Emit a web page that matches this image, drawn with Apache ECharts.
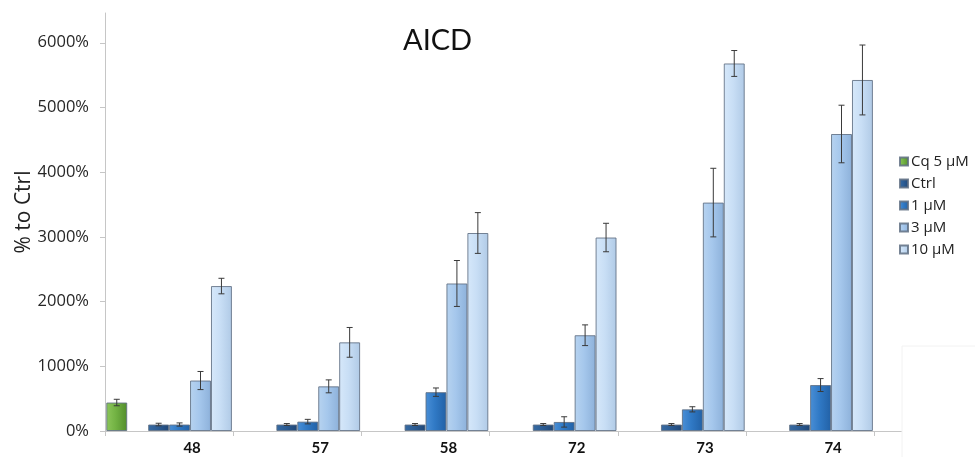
<!DOCTYPE html>
<html>
<head>
<meta charset="utf-8">
<script src="https://cdn.jsdelivr.net/npm/echarts@6/dist/echarts.min.js"></script>
<style>html,body{margin:0;padding:0;background:#fff}#c{width:975px;height:457px}</style>
</head>
<body>
<div id="c"></div>
<script>
// ---- data ----
const categories = ['48', '57', '58', '72', '73', '74', ''];
const yTicks = [0, 1000, 2000, 3000, 4000, 5000, 6000];
const seriesNames = ['Cq 5 µM', 'Ctrl', '1 µM', '3 µM', '10 µM'];
const cqValues   = [440, null, null, null, null, null, null];
const cqErr      = [50, null, null, null, null, null, null];
const ctrlValues = [100, 100, 100, 100, 100, 100, null];
const ctrlErr    = [20, 15, 15, 15, 15, 15, null];
const m1Values   = [100, 145, 600, 140, 335, 710, null];
const m1Err      = [25, 35, 65, 80, 40, 100, null];
const m3Values   = [780, 690, 2280, 1480, 3530, 4590, null];
const m3Err      = [140, 100, 355, 160, 530, 445, null];
const m10Values  = [2240, 1370, 3060, 2990, 5680, 5425, null];
const m10Err     = [120, 230, 315, 220, 200, 540, null];

// ---- styling ----
const CAT_GAP = 0.02;
const SLOTS = 6;
function grad(a, b, c) {
  return new echarts.graphic.LinearGradient(0, 0, 1, 0, [
    {offset: 0, color: a}, {offset: 0.45, color: b}, {offset: 1, color: c}
  ]);
}
const styles = [
  grad('#8cc65a', '#72b243', '#528d2b'),
  grad('#386ba3', '#2c5d95', '#1f4676'),
  grad('#4a8fd6', '#3079c5', '#2261a6'),
  grad('#b7d3f0', '#a5c7ec', '#8db1da'),
  grad('#d6e8fa', '#c8def5', '#b0cae6')
];
const valueSets = [cqValues, ctrlValues, m1Values, m3Values, m10Values];
const errSets = [cqErr, ctrlErr, m1Err, m3Err, m10Err];
const slotOf = [0, 2, 3, 4, 5];

const series = [];
valueSets.forEach((vals, k) => {
  series.push({
    name: seriesNames[k],
    type: 'bar',
    data: vals,
    barGap: '0%',
    barCategoryGap: (CAT_GAP * 100) + '%',
    itemStyle: {color: styles[k], borderColor: 'rgba(95,110,130,0.85)', borderWidth: 1},
    z: 2
  });
  if (k === 0) {
    series.push({
      name: 'blank', type: 'bar', data: categories.map(() => null),
      barGap: '0%', barCategoryGap: (CAT_GAP * 100) + '%'
    });
  }
});
valueSets.forEach((vals, k) => {
  const d = [];
  vals.forEach((v, i) => { if (v != null) d.push([i, v, errSets[k][i]]); });
  const slot = slotOf[k];
  series.push({
    type: 'custom',
    name: 'err' + k,
    coordinateSystem: 'cartesian2d',
    encode: {x: 0, y: 1},
    z: 10,
    silent: true,
    data: d,
    renderItem: function (params, api) {
      const idx = api.value(0), v = api.value(1), e = api.value(2);
      const top = api.coord([idx, v + e]);
      const bot = api.coord([idx, v - e]);
      const catW = api.size([1, 0])[0];
      const slotW = catW * (1 - CAT_GAP) / SLOTS;
      const x = top[0] + (slot - 2.5) * slotW;
      const cap = 3;
      const st = {stroke: '#3a3a3a', lineWidth: 1};
      return {type: 'group', children: [
        {type: 'line', shape: {x1: x, y1: top[1], x2: x, y2: bot[1]}, style: st},
        {type: 'line', shape: {x1: x - cap, y1: top[1], x2: x + cap, y2: top[1]}, style: st},
        {type: 'line', shape: {x1: x - cap, y1: bot[1], x2: x + cap, y2: bot[1]}, style: st}
      ]};
    }
  });
});

const chart = echarts.init(document.getElementById('c'));
chart.setOption({
  backgroundColor: '#ffffff',
  animation: false,
  title: {
    text: 'AICD', left: 398, top: 21,
    textStyle: {fontFamily: 'Lato', fontSize: 29, fontWeight: 'normal', color: '#111'}
  },
  legend: {
    orient: 'vertical', left: 894, top: 149,
    data: seriesNames,
    icon: 'rect', itemWidth: 8, itemHeight: 8, itemGap: 7,
    textStyle: {fontFamily: 'Open Sans', fontSize: 15, color: '#222', lineHeight: 15, padding: [0, 0, 0, -2]}
  },
  grid: {left: 105, width: 897.4, top: 13, bottom: 26, containLabel: false, outerBoundsMode: 'none'},
  xAxis: {
    type: 'category',
    data: categories,
    axisLine: {lineStyle: {color: '#c6c6c6', width: 1}},
    axisTick: {show: true, length: 5, lineStyle: {color: '#c6c6c6'}},
    axisLabel: {
      margin: 10,
      formatter: v => v === '' ? '' : '{a|' + v + '}',
      rich: {a: {fontFamily: 'Lato', fontWeight: 'bold', fontSize: 15, color: '#111', padding: [0, 0, 0, 46]}}
    }
  },
  yAxis: {
    type: 'value', min: 0, max: 6460,
    name: '% to Ctrl', nameLocation: 'middle', nameGap: 70, nameRotate: 90,
    nameMoveOverlap: false,
    nameTextStyle: {fontFamily: 'Open Sans', fontSize: 21, color: '#222', padding: [0, 0, 0, 20]},
    splitLine: {show: false},
    axisLine: {show: true, lineStyle: {color: '#c6c6c6', width: 1}},
    axisTick: {show: true, length: 5, lineStyle: {color: '#c6c6c6'}, customValues: yTicks},
    axisLabel: {
      customValues: yTicks, margin: 16,
      formatter: v => v + '%',
      fontFamily: 'Open Sans', fontSize: 16.5, color: '#262626'
    }
  },
  graphic: [{
    type: 'rect', z: 100,
    shape: {x: 902, y: 346, width: 80, height: 120},
    style: {fill: '#ffffff', stroke: '#f2f2f2', lineWidth: 1}
  }],
  series: series
});
</script>
</body>
</html>
